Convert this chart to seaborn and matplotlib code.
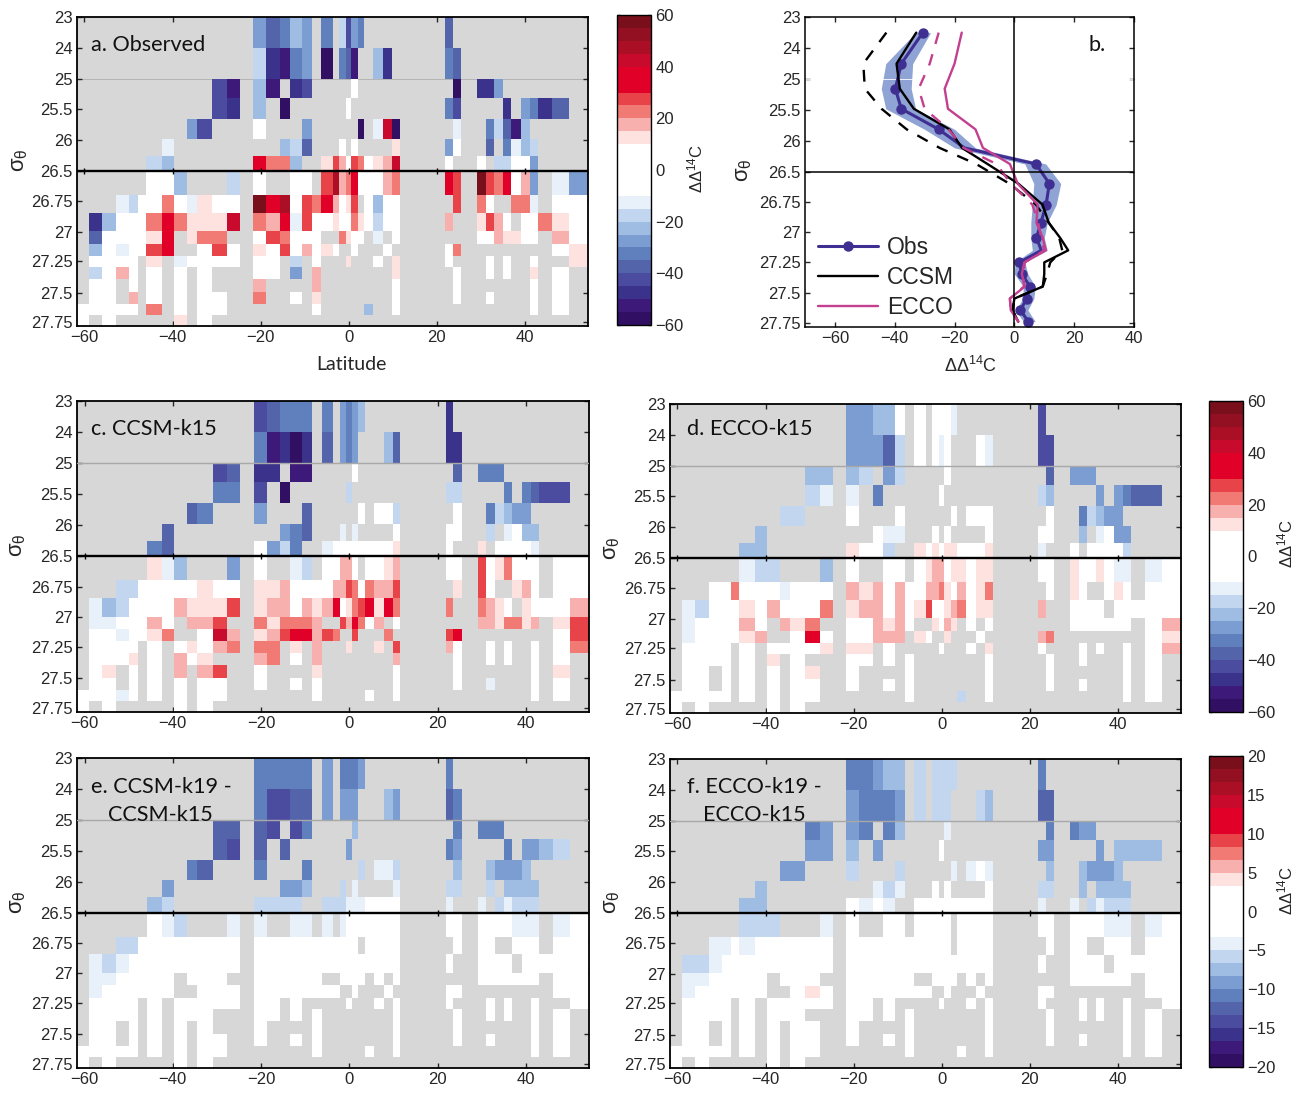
import numpy as np
import seaborn as sns
import matplotlib.pyplot as plt
from matplotlib.colors import ListedColormap

sns.set_style('white')
plt.rcParams['font.family'] = ['Liberation Sans', 'DejaVu Sans']
plt.rcParams['mathtext.default'] = 'regular'
plt.rcParams['axes.unicode_minus'] = True

W, H = 1301, 1094

# grid of the sections: latitude edges and density bin edges (in tick units)
lat_edges = [-61.7, -58.9, -55.9, -52.9, -50.0, -48.0, -45.9, -42.4, -39.8, -36.8, -34.5, -30.9,
             -27.7, -24.8, -21.8, -18.8, -15.7, -13.5, -10.8, -8.5, -6.1, -3.6, -2.3, -0.8, 0.5,
             2.0, 3.6, 5.6, 7.7, 9.7, 11.5, 21.7, 23.5, 25.6, 29.0, 31.0, 33.1, 35.1, 36.9, 39.0,
             41.0, 43.0, 46.0, 50.1, 54.2]
sig_edges = [0, 1.01, 2.01, 2.63, 3.31, 3.96, 4.51, 5, 5.78, 6.36, 6.95, 7.34, 7.76, 8.12, 8.51,
             8.93, 9.29, 9.68, 10.03]
sig_ticks = [0, 1, 2, 3, 4, 5, 5.98, 6.96, 7.93, 8.94, 9.9]
sig_labels = ['23', '24', '25', '25.5', '26', '26.5', '26.75', '27', '27.25', '27.5', '27.75']
lat_ticks = [-60, -40, -20, 0, 20, 40]
lat_labels = ['\u221260', '\u221240', '\u221220', '0', '20', '40']

# colour bands, -60 to 60 in steps of 5
band_colors = ['#311063', '#3d1a7a', '#3b328c', '#4b4ca0', '#5464ab', '#5f7fbd', '#7b9dd2', '#9fbce3',
               '#c3d6f0', '#e8f0f9', '#ffffff', '#ffffff', '#ffffff', '#ffffff', '#fde2e0', '#f7b0ad',
               '#f17a74', '#e84348', '#e00028', '#e00028', '#c80a2c', '#aa0f26', '#930f22', '#7a0f1c']

# cell codes: '.' no data, '0' near zero, 1-9 positive bands, a-j negative bands
band_mid = {'0': 0, '1': 12.5, '2': 17.5, '3': 22.5, '4': 27.5, '5': 35, '6': 42.5, '7': 47.5,
            '8': 52.5, '9': 57.5, 'a': -12.5, 'b': -17.5, 'c': -22.5, 'd': -27.5, 'e': -32.5,
            'f': -37.5, 'g': -42.5, 'h': -47.5, 'i': -52.5, 'j': -57.5, '.': np.nan}

observed = [
    ".............." "dfecd.e.bgde...." ".f............",
    ".............." "bhied.j.efi..ch." ".ef...........",
    "...........gi." "ci.hg.....0....." "..j.hhd.......",
    "...........gh." "c.j......0......" ".eg....h.dehf.",
    ".........dg..." "0...d......j.a6j" "..a..ebfic....",
    ".......a......" "..cbf...0.0....1" ".d0..f.eacb...",
    "......bc......" "533c..1420430126" ".0..0.bb00d...",
    "......00c...b." "0..00.4723500023" ".54.943502d.ad",
    "...ab0030a100." "95704352014.0c00" "..4.30..33a.00",
    ".hc0003531116." "325a400100310b00" ".2..1420.00310",
    ".f000015.133.." "043000..3100.a.0" "....0021100.20",
    ".c0a0045..040." "10402010..0...0." ".03.........01",
    ".0000.1.a0000." "00.b.0...1...0.1" ".0...0.0..0..1",
    ".b020.0.0.0..." "00.d.2.........1" "..0..0.0..1.0.",
    ".00.0.0.0.0..." "2....2.........0" "..0.......0.0.",
    ".00.2.0.0.00.." "3..0.1.........0" "..0..0....0.0.",
    "00000.3.0.00.." ".....0......c..0" "..........0.0.",
    "0.0.....1.0..." "................" "..............",
]
ccsm_k15 = [
    ".............." "gfeee.e.dedc...." ".h............",
    ".............." "eihjh.f.ded...cf" ".hh...........",
    "...........gf." "hh.ii.....0....." "..f.eee.......",
    "...........ee." "g.j......b......" ".bb....e.efgg.",
    ".........fe..." "d...f......0.00b" "..0..ebcdd....",
    ".......f......" "..def...a.a....0" ".00..b.a0cc...",
    "......ef......" "0dbe..a000000001" ".0..1.0000a...",
    "......1ac...d." "0..ab.00220.0012" ".00.4013000.00",
    "...bb00000100." "1120000224303224" "..1.40..120.00",
    ".acb000021114." "1220212501345153" ".3..3210.10002",
    ".aa00020.224.." "313332..425302.0" "....2213312.14",
    ".00a0013..062." "12455243..4...3." ".45.........04",
    ".0000.0.01023." "33.1.2...1...1.4" ".20..0.0..0.03",
    ".0001.0.201..." "23.0.2.........2" "..0..0.0..0.0.",
    ".01.0.0.2.24.." "0....1.........0" "..0.......0.1.",
    ".00.0.0.0.00.." "0..0.0.........0" "..0..a....0.0.",
    "000a0.0.0.00.." ".....0......0..0" "..........0.0.",
    "0.0.....0.0..." "................" "..............",
]
ecco_k15 = [
    ".............." "ddcc0.0.000a...." ".g............",
    ".............." "dddfb.0.0a0...0a" ".gg...........",
    "...........cc." "cb.db.....0....." "..f.ddd.......",
    "...........ba." "a.e......0......" ".bc....d.deff.",
    ".........bb..." "0...0......0.000" "..0..ebcdd....",
    ".......c......" "..0aa...0.0....0" ".00..c.a0dd...",
    "......cc......" "100b..1010110001" ".a..0.0000b...",
    "......abb...c." "0..00.0122011011" ".00.10010aa.a0",
    "...003000a000." "2120200223102013" "..0.10..010.00",
    ".ab0001020003." "1220201400123011" ".2..0000.00000",
    ".a000020.213.." "002120..1021.0.0" "....0000000.02",
    ".a000012..050." "00222.10..1...0." ".23.........01",
    ".0000.0.00001." "11.0.....0...0.1" ".0...0.0..0.02",
    ".0000.0.1.0..." "00.0.0.........0" "..0..0....0.0.",
    ".00.0.0.0.01.." "0....0.........0" "..0.......0.0.",
    ".00.0.0.0.00.." "0..0.0.........0" "..0..0....0.0.",
    "00000.0.0.00.." ".....0......b..0" "..........0.0.",
    "0.0.....0.0..." "................" "..............",
]
ccsm_diff = [
    ".............." "eeeee.d.eeed...." ".e............",
    ".............." "eggff.d.ddd...cd" ".fe...........",
    "...........ff." "fg.ge.....c....." "..e.eee.......",
    "...........fg." "f.f......d......" ".ed....e.ddcb.",
    ".........ef..." "e...e......b.aab" "..c..cdddc....",
    ".......d......" "..ddc...b.a....a" ".bb..b.cccc...",
    "......cb......" "bbbb..bbbaaa0000" ".a..a.babbb...",
    "......0ab...a." "a..aa.a.a0000000" ".00.0000aaa.a0",
    "...bb00000000." "00000000000.0000" "..0.00..000.00",
    ".aba000000000." "0000000000000000" ".0..0000.00000",
    ".aa00000.000.." "000000..0000.0.0" "....0000000.00",
    ".a000000..000." "00000000..0...0." ".00.........00",
    ".0000.0.00000." "00.0.....0...0.0" ".0...0.0..0..0",
    ".0000.0.000..." "00.0.0.........0" "..0..0.0..0.0.",
    ".00.0.0.0.0..." "0....0.........0" "..0.......0.0.",
    ".00.0.0.0.00.." "0..0.0.........0" "..0..0....0.0.",
    "00000.0.0.00.." ".....0......0..0" "..........0.0.",
    "0.0.....0.0..." "................" "..............",
]
ecco_diff = [
    ".............." "eedcc.b.bbbb...." ".e............",
    ".............." "deeed.b.bbb...bc" ".ff...........",
    "...........ed." "de.ec.....a....." "..e.edd.......",
    "...........dd." "c.d......0......" ".dd....d.cccc.",
    ".........dd..." "b...b......a.a0a" "..c..cdddc....",
    ".......c......" "..aba...0.0....0" ".bb..c.cccc...",
    "......cc......" "0a0a..0000000000" ".a..a.babbb...",
    "......bbb...a." "0..00.00000.0000" ".00.0000aaa.a0",
    "...aa0a000000." "00000000000.0000" "..0.00..000.00",
    ".bba000000000." "0000000000000000" ".0..0000.00000",
    ".aa00000.000.." "000000..0000.0.0" "....0000000.00",
    ".a000000..010." "00000000..0...0." ".00.........00",
    ".0000.0.00000." "00.0.....0...0.0" ".0...0.0..0..0",
    ".0000.0.000..." "00.0.0.........0" "..0..0.0..0.0.",
    ".00.0.0.0.00.." "0....0.........0" "..0.......0.0.",
    ".00.0.0.0.00.." "0..0.0.........0" "..0..0....0.0.",
    "00000.0.0.00.." ".....0......0..0" "..........0.0.",
    "0.0.....0.0..." "................" "..............",
]

# panel b profiles, one value per density bin
obs_mean = [-30.6, -37.8, -39.8, -37.8, -25.3, -16.7, 7.2, 11.7, 10.6, 8.9, 7.4, 9, 1.7, 2.4, 5.3, 4.2, 2, 4.7]
obs_low = [-33, -43, -44.5, -43, -30, -20, 3.5, 6.5, 6, 5.5, 5.5, 6, 0.2, 0, 3, 2.8, 0.5, 3]
obs_high = [-28, -34, -34.5, -33, -20, -13, 10.5, 15.5, 14, 11, 10, 11, 3.5, 4.5, 7, 6.5, 4.5, 7]
ccsm_k19_prof = [-32.8, -39.4, -38.3, -33.6, -21.7, -17.5, -9, 1.3, 9.4, 11.5, 15.3, 18, 10, 10, 9.5, 0, -0.6, 1.3]
ccsm_k15_prof = [-42.8, -50.5, -50, -44.4, -36, -25, -12.8, -1.7, 7.2, 11.5, 15, 16, 12, 10.9, 9.5, 0, -0.6, 1.3]
ecco_k19_prof = [-17.6, -20, -23.3, -22.2, -13, -10.5, -1.5, 1.1, 7.8, 7.4, 9.5, 10.5, 3.3, 2.5, 3.5, -1.5, -1.2, 1.3]
ecco_k15_prof = [-25.3, -28.3, -32, -30, -22, -17, -6, -1.2, 6, 8, 9, 10, 3.5, 3, 3.2, -1.5, -1.2, 1.3]
obs_marked = [0, 1, 2, 3, 4, 6, 7, 8, 9, 10, 12, 13, 14, 15, 16, 17]

GRAY = '#d7d7d7'
cmap = ListedColormap(band_colors)
x_res, y_res = 4, 40
col_counts = np.diff(np.round((np.array(lat_edges) - lat_edges[0]) * x_res)).astype(int)
row_counts = np.diff(np.round(np.array(sig_edges) * y_res)).astype(int)


def px_axes(fig, l, t, r, b):
    return fig.add_axes([l / W, 1 - b / H, (r - l) / W, (b - t) / H])


def section(fig, box, rows, scale=1, line_under=False, cbar_box=None, cbar_ticks=None):
    ax = px_axes(fig, *box)
    arr = np.array([[band_mid[c] / scale for c in r] for r in rows])
    grid = np.repeat(np.repeat(arr, row_counts, axis=0), col_counts, axis=1)
    vlim = 60 / scale
    ax.set_facecolor(GRAY)
    kw = dict(cbar=False)
    if cbar_box is not None:
        kw = dict(cbar=True, cbar_ax=px_axes(fig, *cbar_box), cbar_kws={'ticks': cbar_ticks})
    sns.heatmap(grid, ax=ax, cmap=cmap, vmin=-vlim, vmax=vlim, mask=np.isnan(grid),
                xticklabels=False, yticklabels=False, **kw)
    for s in ax.spines.values():
        s.set_visible(True)
        s.set_linewidth(1.3)
        s.set_color('black')
    xpos = [(v - lat_edges[0]) * x_res for v in lat_ticks]
    ax.set_xticks(xpos)
    ax.set_xticklabels(lat_labels)
    ax.set_yticks([v * y_res for v in sig_ticks])
    ax.set_yticklabels(sig_labels)
    ax.tick_params(direction='in', top=True, right=True, bottom=True, left=True, length=3.5, width=1,
                   labelsize=12, pad=3, labelrotation=0)
    # density 25 and 26.5 lines
    if line_under:
        ax.axhline(2 * y_res, color='#b4b4b4', lw=0.7, zorder=0.5)
    else:
        ax.axhline(2 * y_res, color='#a8a8a8', lw=1, zorder=3)
    ax.axhline(5 * y_res, color='black', lw=1.7, zorder=4)
    ax.vlines(xpos, 5 * y_res - 4, 5 * y_res + 4, color='black', lw=1, zorder=4)
    if cbar_box is not None:
        cb = ax.collections[0].colorbar
        cb.outline.set_visible(True)
        cb.outline.set_linewidth(1)
        cb.outline.set_edgecolor('black')
        cb.ax.tick_params(direction='in', left=True, right=True, length=2.5, width=1, labelsize=12, pad=3)
        cb.ax.set_yticklabels([str(v).replace('-', '\u2212') for v in cbar_ticks])
    return ax


def px_text(fig, x, y, s, **kw):
    kw.setdefault('ha', 'left')
    kw.setdefault('va', 'center')
    fig.text(x / W, 1 - y / H, s, **kw)


fig = plt.figure(figsize=(W / 100, H / 100), dpi=100)

ticks60 = [60, 40, 20, 0, -20, -40, -60]
ticks20 = [20, 15, 10, 5, 0, -5, -10, -15, -20]
section(fig, (77, 17, 588, 326), observed, line_under=True, cbar_box=(617, 15, 651, 325), cbar_ticks=ticks60)
section(fig, (77, 401, 589, 712), ccsm_k15)
section(fig, (670, 404, 1181, 713), ecco_k15, cbar_box=(1209, 401, 1243, 712), cbar_ticks=ticks60)
section(fig, (77, 758, 589, 1068), ccsm_diff, scale=3)
section(fig, (670, 759, 1181, 1068), ecco_diff, scale=3, cbar_box=(1209, 756, 1243, 1067), cbar_ticks=ticks20)

# panel b
ax = px_axes(fig, 805, 17, 1134, 327)
sig_mid = (np.array(sig_edges[:-1]) + np.array(sig_edges[1:])) / 2
ax.fill_betweenx(sig_mid, obs_low, obs_high, color='#8fa3d4', lw=0)
sns.lineplot(x=obs_mean, y=sig_mid, sort=False, estimator=None, ax=ax, color='#3f2f92', lw=2.2, marker='o',
             markersize=7.5, markeredgewidth=0, markevery=obs_marked, label='Obs')
sns.lineplot(x=ccsm_k19_prof, y=sig_mid, sort=False, estimator=None, ax=ax, color='black', lw=1.7, label='CCSM')
sns.lineplot(x=ccsm_k15_prof, y=sig_mid, sort=False, estimator=None, ax=ax, color='black', lw=1.7,
             dashes=False, linestyle=(0, (5, 4.5)))
sns.lineplot(x=ecco_k19_prof, y=sig_mid, sort=False, estimator=None, ax=ax, color='#c2408f', lw=1.7, label='ECCO')
sns.lineplot(x=ecco_k15_prof, y=sig_mid, sort=False, estimator=None, ax=ax, color='#c2408f', lw=1.7,
             dashes=False, linestyle=(0, (5, 4.5)))
ax.axhline(2, color='white', lw=0.6, zorder=1.5)
ax.axhline(5, color='black', lw=1.1)
ax.axvline(0, color='black', lw=1.1)
ax.set_xlim(-70, 40)
ax.set_ylim(10.03, 0)
ax.set_xticks(lat_ticks)
ax.set_xticklabels(lat_labels)
ax.set_yticks(sig_ticks)
ax.set_yticklabels(sig_labels)
ax.tick_params(direction='in', top=True, right=True, bottom=True, left=True, length=3.5, width=1, labelsize=12, pad=3)
for s in ax.spines.values():
    s.set_visible(True)
    s.set_linewidth(1.1)
    s.set_color('black')
ax.legend(loc='lower left', bbox_to_anchor=(-0.002, -0.02), frameon=False, fontsize=16.5, handlelength=2.6,
          labelspacing=0.315, handletextpad=0.4, borderaxespad=0.2)

# panel letters
title_kw = dict(family=['Lato', 'DejaVu Sans'], fontsize=15.6, color='#111111')
px_text(fig, 91, 45, 'a. Observed', **title_kw)
px_text(fig, 1088, 45, 'b.', **title_kw)
px_text(fig, 91, 429, 'c. CCSM-k15', **title_kw)
px_text(fig, 687, 429, 'd. ECCO-k15', **title_kw)
px_text(fig, 91, 787, 'e. CCSM-k19 -', **title_kw)
px_text(fig, 108, 815, 'CCSM-k15', **title_kw)
px_text(fig, 687, 787, 'f. ECCO-k19 -', **title_kw)
px_text(fig, 703, 815, 'ECCO-k15', **title_kw)
px_text(fig, 351, 365, 'Latitude', ha='center', family=['Lato', 'DejaVu Sans'], fontsize=14)
px_text(fig, 970, 366, r'$\Delta\Delta^{14}$C', ha='center', fontsize=13)

# density and colourbar labels
sigma = r'$\sigma_\theta$'
for x, y in [(20, 160), (743, 170), (17, 545), (611, 548), (17, 902), (611, 902)]:
    px_text(fig, x, y, sigma, ha='center', rotation=90, fontsize=16)
for x, y in [(695, 168), (1285, 543), (1285, 890)]:
    px_text(fig, x, y, r'$\Delta\Delta^{14}$C', ha='center', rotation=90, fontsize=12)

fig.savefig('out.png', dpi=100)
